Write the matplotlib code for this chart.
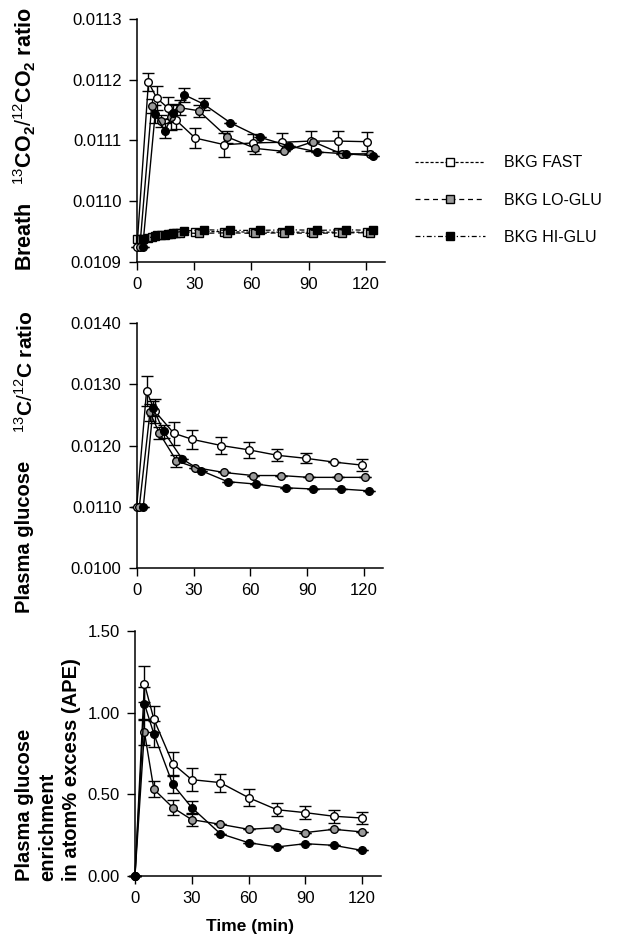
import matplotlib
matplotlib.use("Agg")
import matplotlib.pyplot as plt

plt.rcParams['font.family'] = ['Liberation Sans', 'DejaVu Sans']
plt.rcParams['mathtext.fontset'] = 'custom'
plt.rcParams['mathtext.rm'] = 'Liberation Sans'
plt.rcParams['mathtext.bf'] = 'Liberation Sans:bold'

# ---- breath 13CO2/12CO2 ----
br_t_fast = [0, 6, 10.3, 16, 20.3, 30.5, 45.8, 60.9, 75.8, 91, 105.4, 120.3]
br_fast = [0.010925, 0.011196, 0.011170, 0.011154, 0.011134, 0.011104, 0.011093,
           0.011096, 0.011097, 0.011099, 0.011099, 0.011098]
br_fast_err = [0, 0.000015, 0.00002, 0.000018, 0.000015, 0.000017, 0.00002,
               0.000014, 0.000016, 0.000016, 0.000016, 0.000016]
br_t_lo = [1.5, 7.7, 12.5, 17.7, 22.3, 32.3, 47.2, 62, 77, 92.3, 107.2, 122]
br_lo = [0.010925, 0.011157, 0.011132, 0.011138, 0.011154, 0.011149, 0.011106,
         0.011087, 0.011082, 0.011098, 0.011078, 0.011078]
br_lo_err = [0, 0.000012, 0.00001, 0.00002, 0.000012, 0.00001, 0.00001,
             0.00001, 0, 0, 0, 0]
br_t_hi = [3, 9.5, 14.7, 19.1, 24.9, 34.9, 49, 64.7, 79.6, 94.6, 109.5, 123.5]
br_hi = [0.010925, 0.011143, 0.011116, 0.011145, 0.011175, 0.011160, 0.011129,
         0.011105, 0.011091, 0.011081, 0.011078, 0.011075]
br_hi_err = [0, 0.000015, 0.000012, 0.000015, 0.000012, 0.00001, 0, 0, 0, 0, 0, 0]

bkg_fast = [0.010938, 0.010940, 0.010944, 0.010946, 0.010947, 0.010950, 0.010950,
            0.010949, 0.010949, 0.010949, 0.010949, 0.010949]
bkg_lo = [0.010938, 0.010941, 0.010944, 0.010946, 0.010948, 0.010947, 0.010948,
          0.010947, 0.010948, 0.010947, 0.010948, 0.010948]
bkg_hi = [0.010938, 0.010942, 0.010945, 0.010948, 0.010951, 0.010953, 0.010952,
          0.010952, 0.010953, 0.010952, 0.010953, 0.010952]

# ---- plasma glucose 13C/12C ----
pg_t_fast = [0, 5.2, 9.6, 19.6, 29.4, 44.6, 59.1, 74.3, 89.6, 104, 118.9]
pg_fast = [0.0110, 0.01289, 0.01256, 0.01220, 0.01210, 0.01200, 0.01193,
           0.01184, 0.01179, 0.01173, 0.01168]
pg_fast_err = [0, 0.00025, 0.0002, 0.00019, 0.000155, 0.00014, 0.00013,
               0.0001, 0.00008, 0, 0.0001]
pg_t_lo = [1.4, 7, 12, 21, 31, 46, 61.4, 76, 91, 106, 120.4]
pg_lo = [0.0110, 0.01254, 0.01220, 0.01175, 0.01164, 0.01156, 0.01151,
         0.01151, 0.01148, 0.01148, 0.01148]
pg_lo_err = [0, 0.00014, 0.0001, 0.0001, 0, 0, 0, 0, 0, 0, 0]
pg_t_hi = [3.5, 8.7, 14.2, 24, 34, 48, 63, 78.6, 93, 108, 122.7]
pg_hi = [0.0110, 0.01261, 0.01223, 0.01178, 0.01159, 0.01141, 0.01137,
         0.01131, 0.01129, 0.01129, 0.01126]
pg_hi_err = [0, 0.00012, 0.0001, 0, 0, 0, 0, 0, 0, 0, 0]

# ---- enrichment APE ----
ape_t = [0, 5, 10, 20, 30, 45, 60, 75, 90, 105, 120]
ape_fast = [0, 1.178, 0.96, 0.688, 0.590, 0.572, 0.480, 0.406, 0.388, 0.366, 0.355]
ape_fast_err = [0, 0.11, 0.08, 0.07, 0.07, 0.055, 0.05, 0.04, 0.04, 0.04, 0.035]
ape_lo = [0, 0.882, 0.531, 0.419, 0.345, 0.317, 0.286, 0.296, 0.266, 0.286, 0.27]
ape_lo_err = [0, 0.08, 0.05, 0.046, 0.04, 0, 0, 0, 0, 0, 0]
ape_hi = [0, 1.055, 0.87, 0.561, 0.419, 0.26, 0.204, 0.178, 0.198, 0.188, 0.157]
ape_hi_err = [0, 0.1, 0.08, 0.05, 0.04, 0, 0, 0, 0, 0, 0]

xticks = [0, 30, 60, 90, 120]
gray = '#9a9a9a'

fig = plt.figure(figsize=(6.19, 9.44), dpi=100)
ax1 = fig.add_axes([0.2213, 0.7225, 0.4007, 0.2574])
ax2 = fig.add_axes([0.2208, 0.3983, 0.3980, 0.2595])
ax3 = fig.add_axes([0.2180, 0.0720, 0.3975, 0.2596])


def style(ax, ylim, yticks, fmt):
    ax.set_xlim(0, 130)
    ax.set_ylim(*ylim)
    ax.set_xticks(xticks)
    ax.set_yticks(yticks)
    ax.set_yticklabels([fmt % v for v in yticks])
    for s in ['top', 'right']:
        ax.spines[s].set_visible(False)
    for s in ['left', 'bottom']:
        ax.spines[s].set_linewidth(1.1)
    ax.tick_params(direction='out', length=6, width=1, labelsize=12, pad=5)


def series(ax, t, v, err, face):
    ax.errorbar(t, v, yerr=err, color='black', lw=1.0, elinewidth=1.0,
                capsize=4.5, capthick=1.0, marker='o', ms=5.5,
                mfc=face, mec='black', mew=1.0, clip_on=False, zorder=3)


series(ax1, br_t_fast, br_fast, br_fast_err, 'white')
series(ax1, br_t_lo, br_lo, br_lo_err, gray)
series(ax1, br_t_hi, br_hi, br_hi_err, 'black')
h1, = ax1.plot(br_t_fast, bkg_fast, color='black', lw=0.9, ls=(0, (2.5, 1.5)),
               marker='s', ms=6, mfc='white', mec='black', mew=1.0, clip_on=False)
h2, = ax1.plot(br_t_lo, bkg_lo, color='black', lw=0.9, ls=(0, (4, 3)),
               marker='s', ms=6, mfc=gray, mec='black', mew=1.0, clip_on=False)
h3, = ax1.plot(br_t_hi, bkg_hi, color='black', lw=0.9, ls=(0, (4, 2, 1, 2)),
               marker='s', ms=6, mfc='black', mec='black', mew=1.0, clip_on=False)
style(ax1, (0.0109, 0.0113), [0.0109, 0.0110, 0.0111, 0.0112, 0.0113], '%.4f')

series(ax2, pg_t_fast, pg_fast, pg_fast_err, 'white')
series(ax2, pg_t_lo, pg_lo, pg_lo_err, gray)
series(ax2, pg_t_hi, pg_hi, pg_hi_err, 'black')
style(ax2, (0.0100, 0.0140), [0.0100, 0.0110, 0.0120, 0.0130, 0.0140], '%.4f')

series(ax3, ape_t, ape_fast, ape_fast_err, 'white')
series(ax3, ape_t, ape_lo, ape_lo_err, gray)
series(ax3, ape_t, ape_hi, ape_hi_err, 'black')
style(ax3, (0, 1.5), [0, 0.5, 1.0, 1.5], '%.2f')

fig.legend([h1, h2, h3], ['BKG FAST', 'BKG LO-GLU', 'BKG HI-GLU'],
           loc='center left', bbox_to_anchor=(0.670, 0.788), frameon=False,
           fontsize=11.5, handlelength=4.4, handletextpad=1.2, labelspacing=1.4,
           borderpad=0, borderaxespad=0)

fig.text(0.040, 0.713, r'Breath   $^{13}\mathbf{CO}_{\mathbf{2}}/^{12}\mathbf{CO}_{\mathbf{2}}$ ratio',
         rotation=90, ha='center', va='bottom', fontsize=15.5, fontweight='bold')
fig.text(0.040, 0.351, 'Plasma glucose', rotation=90, ha='center', va='bottom',
         fontsize=14.5, fontweight='bold')
fig.text(0.042, 0.541, r'$^{13}\mathbf{C}/^{12}\mathbf{C}$ ratio', rotation=90,
         ha='center', va='bottom', fontsize=15, fontweight='bold')
fig.text(0.077, 0.067, 'Plasma glucose\nenrichment\nin atom% excess (APE)',
         rotation=90, ha='center', va='bottom', multialignment='left',
         linespacing=1.3, fontsize=14.5, fontweight='bold')
fig.text(0.404, 0.019, 'Time (min)', ha='center', va='center',
         fontsize=12.5, fontweight='bold')

fig.savefig('out.png', dpi=100)
